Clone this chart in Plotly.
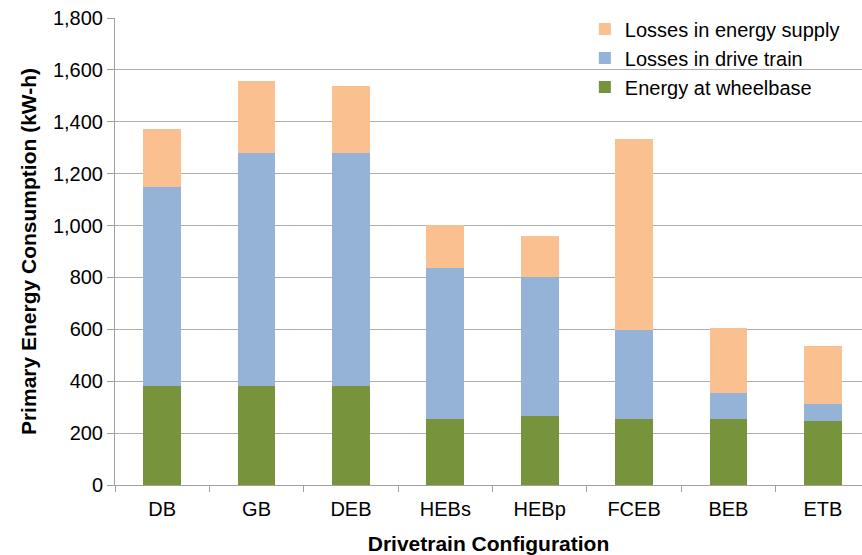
import plotly.graph_objects as go

# Drivetrain configurations on the x axis
configs = ["DB", "GB", "DEB", "HEBs", "HEBp", "FCEB", "BEB", "ETB"]

# Stacked components of primary energy consumption (kW-h)
energy_at_wheelbase = [381, 381, 381, 255, 265, 255, 255, 248]
losses_drive_train = [769, 900, 900, 580, 537, 341, 101, 65]
losses_energy_supply = [223, 277, 257, 167, 158, 739, 248, 224]

y_ticks = [0, 200, 400, 600, 800, 1000, 1200, 1400, 1600, 1800]

FONT = "Liberation Sans, Arial, Helvetica, sans-serif"

fig = go.Figure()
fig.add_trace(go.Bar(x=configs, y=energy_at_wheelbase, name="Energy at wheelbase",
                     marker=dict(color="#77933C", line=dict(width=0))))
fig.add_trace(go.Bar(x=configs, y=losses_drive_train, name="Losses in drive train",
                     marker=dict(color="#95B3D7", line=dict(width=0))))
fig.add_trace(go.Bar(x=configs, y=losses_energy_supply, name="Losses in energy supply",
                     marker=dict(color="#FAC090", line=dict(width=0))))

fig.update_layout(
    width=862, height=555,
    barmode="stack", bargap=0.6,
    plot_bgcolor="white", paper_bgcolor="white",
    margin=dict(l=115, r=0, t=18, b=70),
    font=dict(family=FONT, size=20, color="black"),
    legend=dict(
        x=0.629, y=1.018, xanchor="left", yanchor="top",
        traceorder="reversed", bgcolor="rgba(0,0,0,0)",
        font=dict(size=20), tracegroupgap=0, itemwidth=30,
    ),
    xaxis=dict(
        range=[-0.5, 7.415],
        showline=True, linecolor="#A0A0A0", linewidth=1,
        ticks="outside", tickson="boundaries", ticklen=6, tickcolor="#A0A0A0",
        ticklabelstandoff=6,
        showgrid=False,
        title=dict(text="<b>Drivetrain Configuration</b>", font=dict(size=21), standoff=19),
        tickfont=dict(size=20),
    ),
    yaxis=dict(
        range=[0, 1800], tickvals=y_ticks, tickformat=",",
        showline=True, linecolor="#A0A0A0", linewidth=1,
        ticks="outside", ticklen=7, tickcolor="#A0A0A0",
        showgrid=True, gridcolor="#ADADAD", gridwidth=1.3,
        zeroline=False,
        title=dict(text="<b>Primary Energy Consumption (kW-h)</b>", font=dict(size=21), standoff=10),
        tickfont=dict(size=20),
    ),
)

fig.write_html("out.html")
